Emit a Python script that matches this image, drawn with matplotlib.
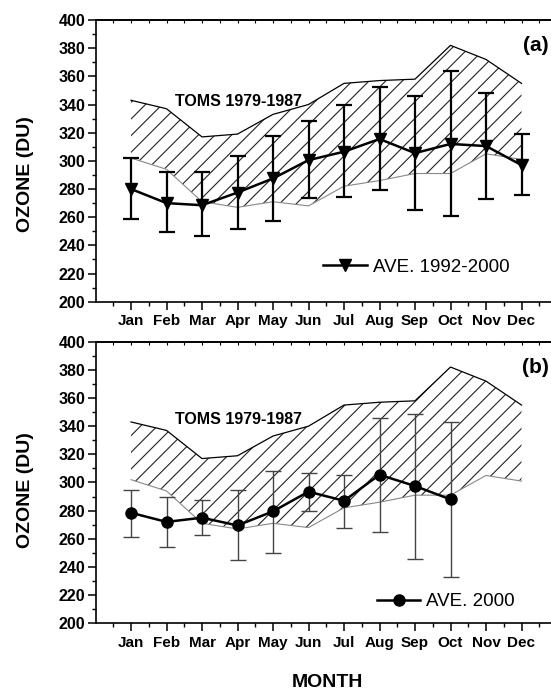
import numpy as np
import matplotlib
matplotlib.use("Agg")
import matplotlib.pyplot as plt

plt.rcParams['font.family'] = ['Liberation Sans', 'DejaVu Sans']
plt.rcParams['hatch.linewidth'] = 0.8
plt.rcParams['hatch.color'] = '#222222'

months = ['Jan', 'Feb', 'Mar', 'Apr', 'May', 'Jun', 'Jul', 'Aug', 'Sep', 'Oct', 'Nov', 'Dec']
month_idx = np.arange(1, 13)

# TOMS 1979-1987 band
toms_upper = [343, 337, 317, 319, 333, 340, 355, 357, 358, 382, 372, 355]
toms_lower = [302, 294, 271, 267, 271, 268, 282, 286, 291, 291, 305, 301]

# (a) average 1992-2000
ave_a = [280, 270, 268.5, 277.5, 287.5, 300.5, 306.5, 315.5, 305.5, 312, 310.5, 297]
ave_a_hi = [302, 292, 292, 303.5, 317.5, 328, 340, 352.5, 346, 364, 348, 319]
ave_a_lo = [258.5, 249.5, 246.5, 251.5, 257.5, 273.5, 274, 279, 265, 260.5, 273, 275.5]

# (b) average 2000
months_b = np.arange(1, 11)
ave_b = [278.5, 272, 275, 269.5, 279.5, 293.5, 287, 305.5, 297.5, 288]
ave_b_hi = [295, 289.5, 287.5, 295, 308.5, 306.5, 305.5, 346, 348.5, 343]
ave_b_lo = [261.5, 254.5, 262.5, 245, 250, 279.5, 267.5, 264.5, 246, 233]

fig = plt.figure(figsize=(5.51, 6.91), dpi=100)
W, H = 551.0, 691.0
left = 95.5 / W
width = (557.0 - 95.5) / W
ax_a = fig.add_axes([left, 1 - 301.7 / H, width, 281.7 / H])
ax_b = fig.add_axes([left, 1 - 623.3 / H, width, 281.6 / H])


def style(ax):
    ax.set_xlim(0, 13)
    ax.set_ylim(200, 400)
    ax.set_xticks(month_idx)
    ax.set_xticklabels(months, fontsize=11, fontweight='bold')
    ax.set_xticks(np.arange(0.5, 13, 1.0), minor=True)
    ax.set_yticks(np.arange(200, 401, 20))
    ax.set_yticks(np.arange(210, 400, 20), minor=True)
    for lab in ax.get_yticklabels():
        lab.set_fontweight('bold')
        lab.set_fontsize(11.5)
    ax.tick_params(axis='both', which='major', direction='out', length=6, width=1.1)
    ax.tick_params(axis='both', which='minor', direction='out', length=3, width=1.0)
    ax.tick_params(axis='y', which='major', pad=1.5)
    ax.tick_params(axis='x', which='major', pad=3)
    for s in ['left', 'bottom', 'top']:
        ax.spines[s].set_linewidth(1.2)
    ax.spines['right'].set_visible(False)
    sec = ax.secondary_xaxis('top')
    sec.set_xticks(np.arange(0.5, 13, 0.5))
    sec.tick_params(direction='in', length=2.5, width=0.8, labeltop=False)
    sec.set_xticklabels([])
    sec.spines['top'].set_linewidth(1.2)


def band(ax):
    ax.fill_between(month_idx, toms_lower, toms_upper, facecolor='white',
                    edgecolor='#222222', linewidth=0, hatch='//', zorder=1)
    ax.plot(month_idx, toms_upper, color='black', lw=0.9, zorder=2)
    ax.plot(month_idx, toms_lower, color='#888888', lw=0.8, zorder=2)


# Panel (a)
style(ax_a)
band(ax_a)
ya = np.array(ave_a)
ax_a.errorbar(month_idx, ya, yerr=[ya - np.array(ave_a_lo), np.array(ave_a_hi) - ya],
              fmt='none', ecolor='black', elinewidth=1.6, capsize=6, capthick=1.6, zorder=3)
ax_a.plot(month_idx, ya, color='black', lw=1.8, marker='v', markersize=8,
          markerfacecolor='black', markeredgecolor='black', label='AVE. 1992-2000', zorder=4)
ax_a.text(4.04, 341.8, 'TOMS 1979-1987', fontsize=11.5, fontweight='bold',
          ha='center', va='center', zorder=5)
ax_a.text(12.4, 382, '(a)', fontsize=15, fontweight='bold', ha='center', va='center')
ax_a.legend(loc='center left', bbox_to_anchor=(0.493, 0.123), frameon=False,
            fontsize=13.5, handlelength=2.35, handletextpad=0.32,
            borderpad=0, borderaxespad=0)
ax_a.set_ylabel('OZONE (DU)', fontsize=14, fontweight='bold')
ax_a.yaxis.set_label_coords(-0.133, 0.453)

# Panel (b)
style(ax_b)
band(ax_b)
yb = np.array(ave_b)
ax_b.errorbar(months_b, yb, yerr=[yb - np.array(ave_b_lo), np.array(ave_b_hi) - yb],
              fmt='none', ecolor='#444444', elinewidth=1.0, capsize=6, capthick=1.0, zorder=3)
ax_b.plot(months_b, yb, color='black', lw=1.8, marker='o', markersize=8,
          markerfacecolor='black', markeredgecolor='black', label='AVE. 2000', zorder=4)
ax_b.text(4.04, 345, 'TOMS 1979-1987', fontsize=11.5, fontweight='bold',
          ha='center', va='center', zorder=5)
ax_b.text(12.4, 382, '(b)', fontsize=15, fontweight='bold', ha='center', va='center')
ax_b.legend(loc='center left', bbox_to_anchor=(0.611, 0.077), frameon=False,
            fontsize=13.5, handlelength=2.25, handletextpad=0.32,
            borderpad=0, borderaxespad=0)
ax_b.set_ylabel('OZONE (DU)', fontsize=14, fontweight='bold')
ax_b.yaxis.set_label_coords(-0.133, 0.473)

fig.text(327 / W, 1 - 682.5 / H, 'MONTH', fontsize=14, fontweight='bold',
         ha='center', va='center')

fig.savefig('out.png', dpi=100)
